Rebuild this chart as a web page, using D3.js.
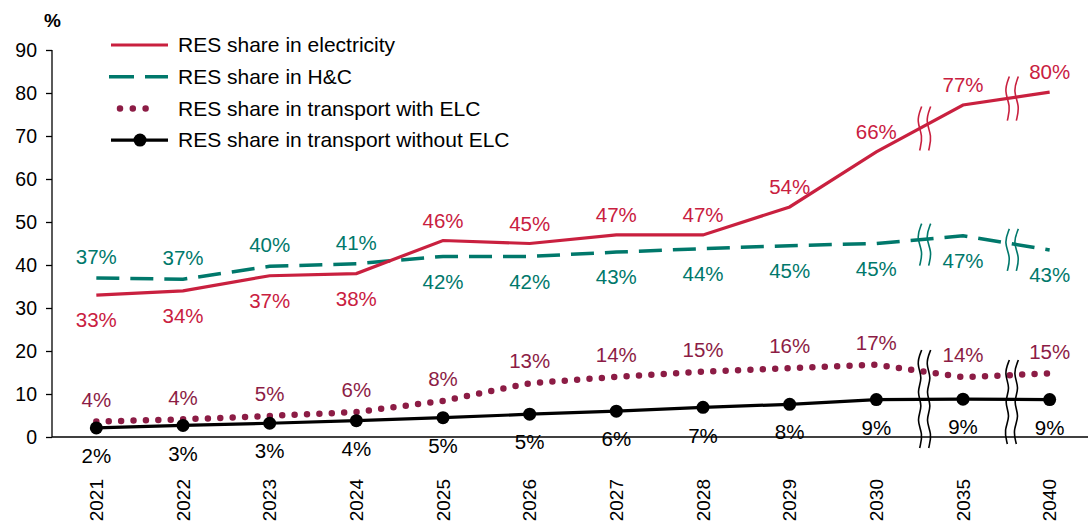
<!DOCTYPE html>
<html lang="en">
<head>
<meta charset="UTF-8">
<title>RES shares</title>
<script src="https://d3js.org/d3.v7.min.js"></script>
<style>
    body { margin: 0; background: #fff; }
    svg { display: block; font-family: "Liberation Sans", Arial, sans-serif; }
</style>
</head>
<body>
<div id="chart"></div>
<script>
// data
const years = ["2021", "2022", "2023", "2024", "2025", "2026", "2027", "2028", "2029", "2030", "2035", "2040"];
const elec = [33, 34, 37.5, 38, 45.7, 45, 47, 47, 53.5, 66.3, 77.2, 80.2];
const elecLabels = [33, 34, 37, 38, 46, 45, 47, 47, 54, 66, 77, 80];
const hc = [37, 36.7, 39.7, 40.3, 42, 42, 43, 43.8, 44.5, 45, 46.8, 43.5];
const hcLabels = [37, 37, 40, 41, 42, 42, 43, 44, 45, 45, 47, 43];
const trWith = [3.6, 4.1, 4.9, 5.8, 8.4, 12.5, 14, 15.2, 16, 16.8, 13.9, 14.8];
const trWithLabels = [4, 4, 5, 6, 8, 13, 14, 15, 16, 17, 14, 15];
const trWithout = [2.1, 2.7, 3.2, 3.8, 4.5, 5.3, 6, 6.9, 7.6, 8.7, 8.8, 8.7];
const trWithoutLabels = [2, 3, 3, 4, 5, 5, 6, 7, 8, 9, 9, 9];
const yTicks = [0, 10, 20, 30, 40, 50, 60, 70, 80, 90];
const legendNames = ["RES share in electricity", "RES share in H&C",
    "RES share in transport with ELC", "RES share in transport without ELC"];

const W = 1088, H = 525;
const RED = "#C9203F", TEAL = "#00786B", MAROON = "#8C1C45";

const svg = d3.select("#chart").append("svg").attr("width", W).attr("height", H);

const x = d3.scaleBand().domain(years).range([53, 1093]);
const y = d3.scaleLinear().domain([0, 90]).range([437, 50]);
const cx = d => x(d) + x.bandwidth() / 2;

// y axis
const yAxis = svg.append("g").attr("transform", "translate(52,0)")
    .call(d3.axisLeft(y).tickValues(yTicks).tickSize(6).tickPadding(9));
yAxis.selectAll("text").style("font-size", "19.5px").attr("fill", "#000");
yAxis.selectAll("line,path").attr("stroke", "#000").attr("stroke-width", 1.3);
yAxis.select(".domain").attr("d", "M0,50V437");

// x axis line
svg.append("line").attr("x1", 52).attr("x2", W).attr("y1", y(0)).attr("y2", y(0))
    .attr("stroke", "#000").attr("stroke-width", 1.3);

svg.append("text").attr("x", 44).attr("y", 27).text("%")
    .style("font-size", "19px").style("font-weight", "bold");

// year labels
svg.selectAll(".year").data(years).enter().append("text")
    .attr("transform", d => `translate(${cx(d)},479) rotate(-90)`)
    .attr("text-anchor", "end").attr("dy", "0.35em")
    .style("font-size", "19px").text(d => d);

const line = d3.line().x((d, i) => cx(years[i])).y(d => y(d));

svg.append("path").datum(hc).attr("d", line).attr("fill", "none")
    .attr("stroke", TEAL).attr("stroke-width", 3.5).attr("stroke-dasharray", "23 11");
svg.append("path").datum(elec).attr("d", line).attr("fill", "none")
    .attr("stroke", RED).attr("stroke-width", 3.2);
svg.append("path").datum(trWith).attr("d", line).attr("fill", "none")
    .attr("stroke", MAROON).attr("stroke-width", 6.5).attr("stroke-linecap", "round")
    .attr("stroke-dasharray", "0 12.4");
svg.append("path").datum(trWithout).attr("d", line).attr("fill", "none")
    .attr("stroke", "#000").attr("stroke-width", 3.2);
svg.selectAll(".dot").data(trWithout).enter().append("circle")
    .attr("cx", (d, i) => cx(years[i])).attr("cy", d => y(d)).attr("r", 6.5).attr("fill", "#000");

// axis break marks (wavy double lines)
const wave = d3.line().curve(d3.curveBasis);
function breakMark(xb, yc, half, color) {
    const n = Math.max(3, Math.round(half * 2 / 14));
    [0, 9].forEach(off => {
        const pts = d3.range(n + 1).map(k => {
            const dx = k === 0 || k === n ? 0 : (k % 2 ? -3.5 : 3.5);
            return [xb + off + dx + (k === 0 ? 2 : 0), yc - half + k * (2 * half / n)];
        });
        svg.append("path").attr("d", wave(pts)).attr("fill", "none")
            .attr("stroke", color).attr("stroke-width", 1.6);
    });
}
const b1 = x("2035"), b2 = x("2040") + 1;
const mid = (arr, a, b) => (y(arr[a]) + y(arr[b])) / 2;
breakMark(b1, mid(elec, 9, 10), 22, RED);
breakMark(b2, mid(elec, 10, 11), 22, RED);
breakMark(b1, mid(hc, 9, 10) + 5, 21, TEAL);
breakMark(b2, mid(hc, 10, 11) + 7, 21, TEAL);
breakMark(b1, 399, 49, "#000");
breakMark(b2, 402, 42, "#000");

// data labels
function labels(vals, labs, color, offset) {
    svg.selectAll(null).data(labs).enter().append("text")
        .attr("x", (d, i) => cx(years[i]))
        .attr("y", (d, i) => y(vals[i]) + offset(i))
        .attr("dy", "0.35em").attr("text-anchor", "middle")
        .attr("fill", color).style("font-size", "20.5px").text(d => d + "%");
}
labels(elec, elecLabels, RED, i => i < 4 ? 25 : -20);
labels(hc, hcLabels, TEAL, i => i < 4 ? -21 : 25);
labels(trWith, trWithLabels, MAROON, () => -22);
labels(trWithout, trWithoutLabels, "#000", () => 28);

// legend
const lg = svg.append("g").attr("transform", "translate(111,45)");
const rowH = 31.7;
legendNames.forEach((name, i) => {
    const g = lg.append("g").attr("transform", `translate(0,${i * rowH})`);
    const l = g.append("line").attr("x1", 0).attr("x2", 57).attr("y1", 0).attr("y2", 0);
    if (i === 0) l.attr("stroke", RED).attr("stroke-width", 3.2);
    if (i === 1) l.attr("x1", -2).attr("stroke", TEAL).attr("stroke-width", 3.5).attr("stroke-dasharray", "25 11");
    if (i === 2) l.attr("x1", 9).attr("x2", 37).attr("stroke", MAROON).attr("stroke-width", 6.5)
        .attr("stroke-linecap", "round").attr("stroke-dasharray", "0 12.8");
    if (i === 3) {
        l.attr("stroke", "#000").attr("stroke-width", 3.2);
        g.append("circle").attr("cx", 29).attr("cy", 0).attr("r", 6.5).attr("fill", "#000");
    }
    g.append("text").attr("x", 67).attr("dy", "0.35em").style("font-size", "21px").text(name);
});
</script>
</body>
</html>
